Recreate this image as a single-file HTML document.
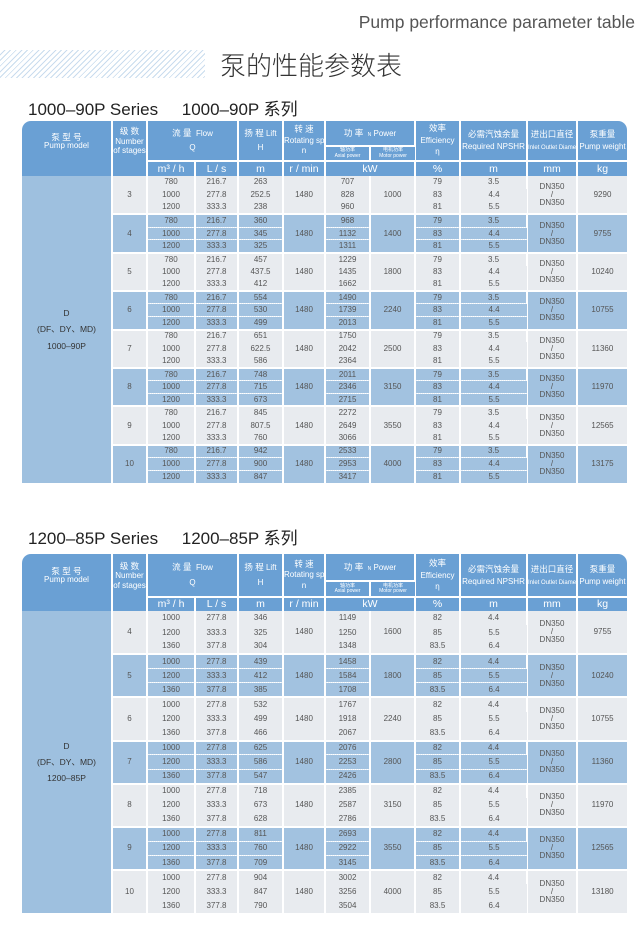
<!DOCTYPE html>
<html><head><meta charset="utf-8"><style>
body{margin:0;width:639px;height:931px;background:#fff;position:relative;overflow:hidden;font-family:"Liberation Sans","Noto Sans CJK SC",sans-serif;}
.t1{position:absolute;right:4px;top:12px;font-size:17.5px;color:#555;}
.hatch{position:absolute;left:0;top:50px;width:205px;height:28px;background:repeating-linear-gradient(135deg,#fff 0 3px,#c9dcee 3px 4px);}
.t2{position:absolute;left:220px;top:46px;font-size:26px;color:#333;font-family:"Noto Sans CJK SC",sans-serif;font-weight:300;}
.st{position:absolute;left:28px;font-size:17px;color:#222;}
table{position:absolute;left:22px;width:605px;border-collapse:collapse;table-layout:fixed;}
td{padding:0;text-align:center;color:#555;font-size:8px;line-height:1;border-right:2px solid #fff;overflow:hidden;white-space:nowrap;}
td:last-child{border-right:none;}
.h td{background:#6aa0d4;color:#fff;font-size:8px;}
.h td.u{font-size:10.5px;border-top:2px solid #fff;}
.h .s{font-size:5px;line-height:1.1;}
.h .cn{font-size:8.5px;}
.m{background:#9ec0df !important;color:#333;font-size:8.5px;line-height:1.9;}
.g td{background:#e8ebef;}
.b td{background:#a2c2e0;}
tr.f td{border-top:2px solid #fff;}
.b td.d{border-bottom:1px dotted #e8f0f8;}
</style></head><body>
<div class="t1">Pump performance parameter table</div>
<div class="hatch"></div>
<div class="t2">泵的性能参数表</div>
<div class="st" style="top:95px">1000–90P Series &nbsp;&nbsp;&nbsp; 1000–90P 系列</div>

<table style="top:121px">
<colgroup><col style="width:90px"><col style="width:35px"><col style="width:48px"><col style="width:43px"><col style="width:45px"><col style="width:42px"><col style="width:45px"><col style="width:45px"><col style="width:45px"><col style="width:67px"><col style="width:50px"><col style="width:50px"></colgroup>
<tr class="h" style="height:25px"><td rowspan="2" style="border-top-left-radius:9px"><span class="cn">泵 型 号</span><br>Pump model</td><td rowspan="2" style="line-height:1.2"><span class="cn">级 数</span><br>Number<br>of stages</td><td colspan="2" rowspan="2" style="line-height:1.8"><span class="cn">流 量</span> &nbsp;Flow<br>Q</td><td rowspan="2" style="line-height:1.8"><span class="cn">扬 程</span> Lift<br>H</td><td rowspan="2" style="line-height:1.3"><span class="cn">转 速</span><br>Rotating speed<br>n</td><td colspan="2"><span class="cn">功 率</span> &nbsp;<span style="font-size:5px">N</span> Power</td><td rowspan="2" style="line-height:1.4"><span class="cn">效率</span><br>Efficiency<br>η</td><td rowspan="2" style="line-height:1.5"><span class="cn">必需汽蚀余量</span><br>Required NPSHR</td><td rowspan="2" style="line-height:1.5"><span class="cn">进出口直径</span><br><span style="font-size:6px">Inlet Outlet Diameter</span></td><td rowspan="2" style="line-height:1.5;border-top-right-radius:9px"><span class="cn">泵重量</span><br>Pump weight</td></tr>
<tr class="h" style="height:15px"><td class="s" style="border-top:2px solid #fff">轴功率<br>Axial power</td><td class="s" style="border-top:2px solid #fff">电机功率<br>Motor power</td></tr>
<tr class="h" style="height:15px"><td style="border-top:none"></td><td style="border-top:none"></td><td class="u">m³ / h</td><td class="u">L / s</td><td class="u">m</td><td class="u">r / min</td><td class="u" colspan="2">kW</td><td class="u">%</td><td class="u">m</td><td class="u">mm</td><td class="u">kg</td></tr>
</table>

<table style="top:176px">
<colgroup><col style="width:90px"><col style="width:35px"><col style="width:48px"><col style="width:43px"><col style="width:45px"><col style="width:42px"><col style="width:45px"><col style="width:45px"><col style="width:45px"><col style="width:67px"><col style="width:50px"><col style="width:50px"></colgroup>
<tr class="g" style="height:12.8px"><td class="m" rowspan="24">D<br>(DF、DY、MD)<br>1000–90P</td><td rowspan="3">3</td><td>780</td><td>216.7</td><td>263</td><td rowspan="3">1480</td><td>707</td><td rowspan="3">1000</td><td>79</td><td>3.5</td><td rowspan="3">DN350<br>/<br>DN350</td><td rowspan="3">9290</td></tr>
<tr class="g" style="height:12.8px"><td>1000</td><td>277.8</td><td>252.5</td><td>828</td><td>83</td><td>4.4</td></tr>
<tr class="g" style="height:12.8px"><td>1200</td><td>333.3</td><td>238</td><td>960</td><td>81</td><td>5.5</td></tr>
<tr class="b f" style="height:12.8px"><td rowspan="3">4</td><td class="d">780</td><td class="d">216.7</td><td class="d">360</td><td rowspan="3">1480</td><td class="d">968</td><td rowspan="3">1400</td><td class="d">79</td><td class="d">3.5</td><td rowspan="3">DN350<br>/<br>DN350</td><td rowspan="3">9755</td></tr>
<tr class="b" style="height:12.8px"><td class="d">1000</td><td class="d">277.8</td><td class="d">345</td><td class="d">1132</td><td class="d">83</td><td class="d">4.4</td></tr>
<tr class="b" style="height:12.8px"><td>1200</td><td>333.3</td><td>325</td><td>1311</td><td>81</td><td>5.5</td></tr>
<tr class="g f" style="height:12.8px"><td rowspan="3">5</td><td>780</td><td>216.7</td><td>457</td><td rowspan="3">1480</td><td>1229</td><td rowspan="3">1800</td><td>79</td><td>3.5</td><td rowspan="3">DN350<br>/<br>DN350</td><td rowspan="3">10240</td></tr>
<tr class="g" style="height:12.8px"><td>1000</td><td>277.8</td><td>437.5</td><td>1435</td><td>83</td><td>4.4</td></tr>
<tr class="g" style="height:12.8px"><td>1200</td><td>333.3</td><td>412</td><td>1662</td><td>81</td><td>5.5</td></tr>
<tr class="b f" style="height:12.8px"><td rowspan="3">6</td><td class="d">780</td><td class="d">216.7</td><td class="d">554</td><td rowspan="3">1480</td><td class="d">1490</td><td rowspan="3">2240</td><td class="d">79</td><td class="d">3.5</td><td rowspan="3">DN350<br>/<br>DN350</td><td rowspan="3">10755</td></tr>
<tr class="b" style="height:12.8px"><td class="d">1000</td><td class="d">277.8</td><td class="d">530</td><td class="d">1739</td><td class="d">83</td><td class="d">4.4</td></tr>
<tr class="b" style="height:12.8px"><td>1200</td><td>333.3</td><td>499</td><td>2013</td><td>81</td><td>5.5</td></tr>
<tr class="g f" style="height:12.8px"><td rowspan="3">7</td><td>780</td><td>216.7</td><td>651</td><td rowspan="3">1480</td><td>1750</td><td rowspan="3">2500</td><td>79</td><td>3.5</td><td rowspan="3">DN350<br>/<br>DN350</td><td rowspan="3">11360</td></tr>
<tr class="g" style="height:12.8px"><td>1000</td><td>277.8</td><td>622.5</td><td>2042</td><td>83</td><td>4.4</td></tr>
<tr class="g" style="height:12.8px"><td>1200</td><td>333.3</td><td>586</td><td>2364</td><td>81</td><td>5.5</td></tr>
<tr class="b f" style="height:12.8px"><td rowspan="3">8</td><td class="d">780</td><td class="d">216.7</td><td class="d">748</td><td rowspan="3">1480</td><td class="d">2011</td><td rowspan="3">3150</td><td class="d">79</td><td class="d">3.5</td><td rowspan="3">DN350<br>/<br>DN350</td><td rowspan="3">11970</td></tr>
<tr class="b" style="height:12.8px"><td class="d">1000</td><td class="d">277.8</td><td class="d">715</td><td class="d">2346</td><td class="d">83</td><td class="d">4.4</td></tr>
<tr class="b" style="height:12.8px"><td>1200</td><td>333.3</td><td>673</td><td>2715</td><td>81</td><td>5.5</td></tr>
<tr class="g f" style="height:12.8px"><td rowspan="3">9</td><td>780</td><td>216.7</td><td>845</td><td rowspan="3">1480</td><td>2272</td><td rowspan="3">3550</td><td>79</td><td>3.5</td><td rowspan="3">DN350<br>/<br>DN350</td><td rowspan="3">12565</td></tr>
<tr class="g" style="height:12.8px"><td>1000</td><td>277.8</td><td>807.5</td><td>2649</td><td>83</td><td>4.4</td></tr>
<tr class="g" style="height:12.8px"><td>1200</td><td>333.3</td><td>760</td><td>3066</td><td>81</td><td>5.5</td></tr>
<tr class="b f" style="height:12.8px"><td rowspan="3">10</td><td class="d">780</td><td class="d">216.7</td><td class="d">942</td><td rowspan="3">1480</td><td class="d">2533</td><td rowspan="3">4000</td><td class="d">79</td><td class="d">3.5</td><td rowspan="3">DN350<br>/<br>DN350</td><td rowspan="3">13175</td></tr>
<tr class="b" style="height:12.8px"><td class="d">1000</td><td class="d">277.8</td><td class="d">900</td><td class="d">2953</td><td class="d">83</td><td class="d">4.4</td></tr>
<tr class="b" style="height:12.8px"><td>1200</td><td>333.3</td><td>847</td><td>3417</td><td>81</td><td>5.5</td></tr>
</table>

<div class="st" style="top:524px">1200–85P Series &nbsp;&nbsp;&nbsp; 1200–85P 系列</div>

<table style="top:554px">
<colgroup><col style="width:90px"><col style="width:35px"><col style="width:48px"><col style="width:43px"><col style="width:45px"><col style="width:42px"><col style="width:45px"><col style="width:45px"><col style="width:45px"><col style="width:67px"><col style="width:50px"><col style="width:50px"></colgroup>
<tr class="h" style="height:27px"><td rowspan="2" style="border-top-left-radius:9px"><span class="cn">泵 型 号</span><br>Pump model</td><td rowspan="2" style="line-height:1.2"><span class="cn">级 数</span><br>Number<br>of stages</td><td colspan="2" rowspan="2" style="line-height:1.8"><span class="cn">流 量</span> &nbsp;Flow<br>Q</td><td rowspan="2" style="line-height:1.8"><span class="cn">扬 程</span> Lift<br>H</td><td rowspan="2" style="line-height:1.3"><span class="cn">转 速</span><br>Rotating speed<br>n</td><td colspan="2"><span class="cn">功 率</span> &nbsp;<span style="font-size:5px">N</span> Power</td><td rowspan="2" style="line-height:1.4"><span class="cn">效率</span><br>Efficiency<br>η</td><td rowspan="2" style="line-height:1.5"><span class="cn">必需汽蚀余量</span><br>Required NPSHR</td><td rowspan="2" style="line-height:1.5"><span class="cn">进出口直径</span><br><span style="font-size:6px">Inlet Outlet Diameter</span></td><td rowspan="2" style="line-height:1.5;border-top-right-radius:9px"><span class="cn">泵重量</span><br>Pump weight</td></tr>
<tr class="h" style="height:16px"><td class="s" style="border-top:2px solid #fff">轴功率<br>Axial power</td><td class="s" style="border-top:2px solid #fff">电机功率<br>Motor power</td></tr>
<tr class="h" style="height:14px"><td></td><td></td><td class="u">m³ / h</td><td class="u">L / s</td><td class="u">m</td><td class="u">r / min</td><td class="u" colspan="2">kW</td><td class="u">%</td><td class="u">m</td><td class="u">mm</td><td class="u">kg</td></tr>
</table>

<table style="top:611px">
<colgroup><col style="width:90px"><col style="width:35px"><col style="width:48px"><col style="width:43px"><col style="width:45px"><col style="width:42px"><col style="width:45px"><col style="width:45px"><col style="width:45px"><col style="width:67px"><col style="width:50px"><col style="width:50px"></colgroup>
<tr class="g" style="height:14.4px"><td class="m" rowspan="21">D<br>(DF、DY、MD)<br>1200–85P</td><td rowspan="3">4</td><td>1000</td><td>277.8</td><td>346</td><td rowspan="3">1480</td><td>1149</td><td rowspan="3">1600</td><td>82</td><td>4.4</td><td rowspan="3">DN350<br>/<br>DN350</td><td rowspan="3">9755</td></tr>
<tr class="g" style="height:14.4px"><td>1200</td><td>333.3</td><td>325</td><td>1250</td><td>85</td><td>5.5</td></tr>
<tr class="g" style="height:14.4px"><td>1360</td><td>377.8</td><td>304</td><td>1348</td><td>83.5</td><td>6.4</td></tr>
<tr class="b f" style="height:14.4px"><td rowspan="3">5</td><td class="d">1000</td><td class="d">277.8</td><td class="d">439</td><td rowspan="3">1480</td><td class="d">1458</td><td rowspan="3">1800</td><td class="d">82</td><td class="d">4.4</td><td rowspan="3">DN350<br>/<br>DN350</td><td rowspan="3">10240</td></tr>
<tr class="b" style="height:14.4px"><td class="d">1200</td><td class="d">333.3</td><td class="d">412</td><td class="d">1584</td><td class="d">85</td><td class="d">5.5</td></tr>
<tr class="b" style="height:14.4px"><td>1360</td><td>377.8</td><td>385</td><td>1708</td><td>83.5</td><td>6.4</td></tr>
<tr class="g f" style="height:14.4px"><td rowspan="3">6</td><td>1000</td><td>277.8</td><td>532</td><td rowspan="3">1480</td><td>1767</td><td rowspan="3">2240</td><td>82</td><td>4.4</td><td rowspan="3">DN350<br>/<br>DN350</td><td rowspan="3">10755</td></tr>
<tr class="g" style="height:14.4px"><td>1200</td><td>333.3</td><td>499</td><td>1918</td><td>85</td><td>5.5</td></tr>
<tr class="g" style="height:14.4px"><td>1360</td><td>377.8</td><td>466</td><td>2067</td><td>83.5</td><td>6.4</td></tr>
<tr class="b f" style="height:14.4px"><td rowspan="3">7</td><td class="d">1000</td><td class="d">277.8</td><td class="d">625</td><td rowspan="3">1480</td><td class="d">2076</td><td rowspan="3">2800</td><td class="d">82</td><td class="d">4.4</td><td rowspan="3">DN350<br>/<br>DN350</td><td rowspan="3">11360</td></tr>
<tr class="b" style="height:14.4px"><td class="d">1200</td><td class="d">333.3</td><td class="d">586</td><td class="d">2253</td><td class="d">85</td><td class="d">5.5</td></tr>
<tr class="b" style="height:14.4px"><td>1360</td><td>377.8</td><td>547</td><td>2426</td><td>83.5</td><td>6.4</td></tr>
<tr class="g f" style="height:14.4px"><td rowspan="3">8</td><td>1000</td><td>277.8</td><td>718</td><td rowspan="3">1480</td><td>2385</td><td rowspan="3">3150</td><td>82</td><td>4.4</td><td rowspan="3">DN350<br>/<br>DN350</td><td rowspan="3">11970</td></tr>
<tr class="g" style="height:14.4px"><td>1200</td><td>333.3</td><td>673</td><td>2587</td><td>85</td><td>5.5</td></tr>
<tr class="g" style="height:14.4px"><td>1360</td><td>377.8</td><td>628</td><td>2786</td><td>83.5</td><td>6.4</td></tr>
<tr class="b f" style="height:14.4px"><td rowspan="3">9</td><td class="d">1000</td><td class="d">277.8</td><td class="d">811</td><td rowspan="3">1480</td><td class="d">2693</td><td rowspan="3">3550</td><td class="d">82</td><td class="d">4.4</td><td rowspan="3">DN350<br>/<br>DN350</td><td rowspan="3">12565</td></tr>
<tr class="b" style="height:14.4px"><td class="d">1200</td><td class="d">333.3</td><td class="d">760</td><td class="d">2922</td><td class="d">85</td><td class="d">5.5</td></tr>
<tr class="b" style="height:14.4px"><td>1360</td><td>377.8</td><td>709</td><td>3145</td><td>83.5</td><td>6.4</td></tr>
<tr class="g f" style="height:14.4px"><td rowspan="3">10</td><td>1000</td><td>277.8</td><td>904</td><td rowspan="3">1480</td><td>3002</td><td rowspan="3">4000</td><td>82</td><td>4.4</td><td rowspan="3">DN350<br>/<br>DN350</td><td rowspan="3">13180</td></tr>
<tr class="g" style="height:14.4px"><td>1200</td><td>333.3</td><td>847</td><td>3256</td><td>85</td><td>5.5</td></tr>
<tr class="g" style="height:14.4px"><td>1360</td><td>377.8</td><td>790</td><td>3504</td><td>83.5</td><td>6.4</td></tr>
</table>
</body></html>
